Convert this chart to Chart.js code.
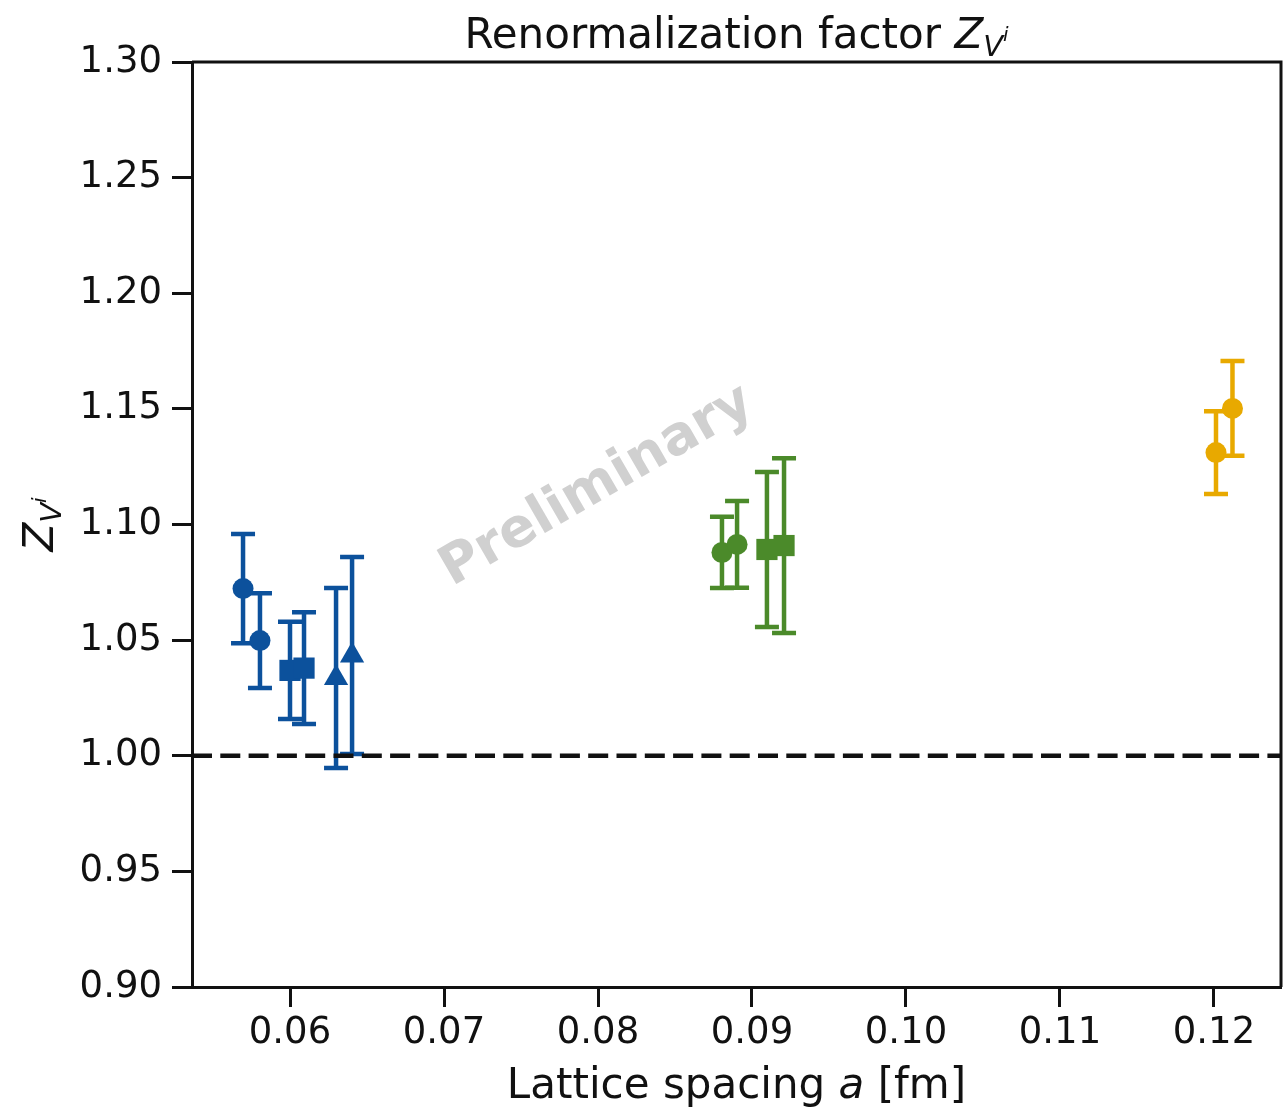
<!DOCTYPE html>
<html>
<head>
<meta charset="utf-8">
<script src="https://cdn.jsdelivr.net/npm/chart.js@4"></script>
<style>
  body { margin: 0; background: #fff; overflow: hidden; }
  canvas { display: block; }
</style>
</head>
<body>
<canvas id="zChart" width="1285" height="1109"></canvas>
<script>
// lattice spacing a [fm], Z value and error for each group of ensembles
const blueCircA = [0.05695, 0.05805];
const blueCircZ = [1.0723, 1.0498];
const blueCircErr = [0.0236, 0.0205];
const blueSqA = [0.0600, 0.06091];
const blueSqZ = [1.0369, 1.0379];
const blueSqErr = [0.0210, 0.0242];
const blueTriA = [0.06299, 0.06403];
const blueTriZ = [1.0336, 1.0434];
const blueTriErr = [0.0389, 0.0426];
const greenCircA = [0.08805, 0.08903];
const greenCircZ = [1.0879, 1.0914];
const greenCircErr = [0.0154, 0.0188];
const greenSqA = [0.09097, 0.09208];
const greenSqZ = [1.0892, 1.0909];
const greenSqErr = [0.0335, 0.0378];
const orangeCircA = [0.12013, 0.1212];
const orangeCircZ = [1.1311, 1.1502];
const orangeCircErr = [0.0179, 0.0205];

const xTicks = [0.06, 0.07, 0.08, 0.09, 0.10, 0.11, 0.12];
const yTicks = [0.90, 0.95, 1.00, 1.05, 1.10, 1.15, 1.20, 1.25, 1.30];
const xRange = [0.053636, 0.124351];
const yRange = [0.90, 1.30];
const refZ = 1.0;

const BLUE = '#0c519c';
const GREEN = '#4b8a2a';
const ORANGE = '#e8a900';
const INK = '#111111';
const FONT = 'DejaVu Sans';

function pts(a, z) {
  return a.map((v, i) => ({ x: v, y: z[i] }));
}

function series(a, z, err, color, style, r) {
  return {
    data: pts(a, z),
    errors: err,
    pointStyle: style,
    pointRadius: r,
    backgroundColor: color,
    borderColor: color,
    borderWidth: 0,
    showLine: false
  };
}

// vertical error bars with caps, drawn just before each dataset's markers
const errorBars = {
  id: 'errorBars',
  beforeDatasetDraw(chart, args) {
    const ds = chart.data.datasets[args.index];
    if (!ds.errors) return;
    const ctx = chart.ctx, xs = chart.scales.x, ys = chart.scales.y;
    ctx.save();
    ctx.strokeStyle = ds.borderColor;
    ctx.lineWidth = 4.5;
    ds.data.forEach((p, i) => {
      const px = xs.getPixelForValue(p.x);
      const top = ys.getPixelForValue(p.y + ds.errors[i]);
      const bot = ys.getPixelForValue(p.y - ds.errors[i]);
      ctx.beginPath();
      ctx.moveTo(px, top); ctx.lineTo(px, bot);
      ctx.moveTo(px - 12, top); ctx.lineTo(px + 12, top);
      ctx.moveTo(px - 12, bot); ctx.lineTo(px + 12, bot);
      ctx.stroke();
    });
    ctx.restore();
  }
};

function drawRich(ctx, parts, x, y) {
  let total = 0;
  parts.forEach(p => { ctx.font = p.f; p.w = ctx.measureText(p.t).width; total += p.w; });
  let cx = x - total / 2;
  ctx.textAlign = 'left';
  ctx.textBaseline = 'alphabetic';
  parts.forEach(p => { ctx.font = p.f; ctx.fillText(p.t, cx, y + (p.dy || 0)); cx += p.w; });
}

const decorations = {
  id: 'decorations',
  beforeDatasetsDraw(chart) {
    const ctx = chart.ctx, ca = chart.chartArea;
    ctx.save();
    ctx.translate(ca.left + 0.372 * (ca.right - ca.left), ca.top + 0.459 * (ca.bottom - ca.top));
    ctx.rotate(-30 * Math.PI / 180);
    ctx.font = 'bold 54px ' + FONT;
    ctx.fillStyle = '#d0d0d0';
    ctx.textAlign = 'center';
    ctx.textBaseline = 'middle';
    ctx.fillText('Preliminary', 0, 0);
    ctx.restore();
  },
  afterDraw(chart) {
    const ctx = chart.ctx, ca = chart.chartArea;
    ctx.save();
    // top and right spines
    ctx.strokeStyle = INK;
    ctx.lineWidth = 3;
    ctx.beginPath();
    ctx.moveTo(ca.left, ca.top); ctx.lineTo(ca.right, ca.top); ctx.lineTo(ca.right, ca.bottom);
    ctx.stroke();

    ctx.fillStyle = INK;
    const mid = (ca.left + ca.right) / 2;
    drawRich(ctx, [
      { t: 'Renormalization factor ', f: '42px ' + FONT },
      { t: 'Z', f: 'italic 42px ' + FONT },
      { t: 'V', f: 'italic 29px ' + FONT, dy: 8 },
      { t: 'i', f: 'italic 20px ' + FONT, dy: -7 }
    ], mid, 48);
    drawRich(ctx, [
      { t: 'Lattice spacing ', f: '42px ' + FONT },
      { t: 'a', f: 'italic 42px ' + FONT },
      { t: ' [fm]', f: '42px ' + FONT }
    ], mid, 1098);
    ctx.translate(53, (ca.top + ca.bottom) / 2);
    ctx.rotate(-Math.PI / 2);
    drawRich(ctx, [
      { t: 'Z', f: 'italic 42px ' + FONT },
      { t: 'V', f: 'italic 29px ' + FONT, dy: 8 },
      { t: 'i', f: 'italic 20px ' + FONT, dy: -7 }
    ], 0, 0);
    ctx.restore();
  }
};

const tickFont = { family: FONT, size: 37 };

new Chart(document.getElementById('zChart'), {
  type: 'scatter',
  data: {
    datasets: [
      {
        type: 'line',
        data: [{ x: xRange[0], y: refZ }, { x: xRange[1], y: refZ }],
        borderColor: INK,
        borderWidth: 4.5,
        borderDash: [20, 8.3],
        pointRadius: 0,
        order: -1
      },
      series(orangeCircA, orangeCircZ, orangeCircErr, ORANGE, 'circle', 10.5),
      series(greenSqA, greenSqZ, greenSqErr, GREEN, 'rect', 15),
      series(greenCircA, greenCircZ, greenCircErr, GREEN, 'circle', 10.5),
      series(blueTriA, blueTriZ, blueTriErr, BLUE, 'triangle', 14),
      series(blueSqA, blueSqZ, blueSqErr, BLUE, 'rect', 15),
      series(blueCircA, blueCircZ, blueCircErr, BLUE, 'circle', 10.5)
    ]
  },
  options: {
    responsive: false,
    animation: false,
    layout: { autoPadding: false, padding: { top: 62, right: 4, left: 0, bottom: 0 } },
    plugins: {
      legend: { display: false },
      tooltip: { enabled: false },
      title: { display: false }
    },
    scales: {
      x: {
        type: 'linear',
        min: xRange[0],
        max: xRange[1],
        afterBuildTicks: s => { s.ticks = xTicks.map(v => ({ value: v })); },
        afterFit: s => { s.height = 122; s.paddingLeft = 0; s.paddingRight = 0; },
        ticks: {
          font: tickFont,
          color: INK,
          padding: 4,
          maxRotation: 0,
          callback: v => v.toFixed(2)
        },
        grid: { drawOnChartArea: false, drawTicks: true, tickLength: 20, tickWidth: 3, tickColor: INK },
        border: { display: true, width: 3, color: INK }
      },
      y: {
        type: 'linear',
        min: yRange[0],
        max: yRange[1],
        afterBuildTicks: s => { s.ticks = yTicks.map(v => ({ value: v })); },
        afterFit: s => { s.width = 192; },
        ticks: {
          font: tickFont,
          color: INK,
          padding: 10,
          callback: v => v.toFixed(2)
        },
        grid: { drawOnChartArea: false, drawTicks: true, tickLength: 20, tickWidth: 3, tickColor: INK },
        border: { display: true, width: 3, color: INK }
      }
    }
  },
  plugins: [errorBars, decorations]
});
</script>
</body>
</html>
